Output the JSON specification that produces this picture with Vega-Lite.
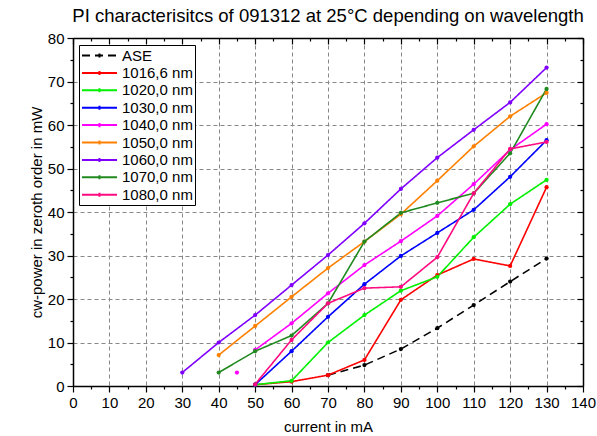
{
  "$schema": "https://vega.github.io/schema/vega-lite/v6.json",
  "width": 510,
  "height": 348,
  "autosize": {"type": "none"},
  "padding": {"left": 73, "top": 38, "right": 14, "bottom": 50},
  "title": {
    "text": "PI characterisitcs of 091312 at 25°C depending on wavelength",
    "font": "Liberation Sans",
    "fontSize": 18.5,
    "fontWeight": "normal",
    "anchor": "middle",
    "offset": 6,
    "color": "black"
  },
  "data": {
    "values": [
      {"series": "ASE", "part": 1, "current": 70, "power": 2.5},
      {"series": "ASE", "part": 1, "current": 80, "power": 4.8},
      {"series": "ASE", "part": 1, "current": 90, "power": 8.5},
      {"series": "ASE", "part": 1, "current": 100, "power": 13.3},
      {"series": "ASE", "part": 1, "current": 110, "power": 18.6},
      {"series": "ASE", "part": 1, "current": 120, "power": 24.0},
      {"series": "ASE", "part": 1, "current": 130, "power": 29.3},
      {"series": "1016,6 nm", "part": 1, "current": 50, "power": 0.3},
      {"series": "1016,6 nm", "part": 1, "current": 60, "power": 1.0},
      {"series": "1016,6 nm", "part": 1, "current": 70, "power": 2.5},
      {"series": "1016,6 nm", "part": 1, "current": 80, "power": 6.0},
      {"series": "1016,6 nm", "part": 1, "current": 90, "power": 19.8},
      {"series": "1016,6 nm", "part": 1, "current": 100, "power": 25.5},
      {"series": "1016,6 nm", "part": 1, "current": 110, "power": 29.2},
      {"series": "1016,6 nm", "part": 1, "current": 120, "power": 27.6},
      {"series": "1016,6 nm", "part": 1, "current": 130, "power": 45.7},
      {"series": "1020,0 nm", "part": 1, "current": 50, "power": 0.3},
      {"series": "1020,0 nm", "part": 1, "current": 60, "power": 1.2},
      {"series": "1020,0 nm", "part": 1, "current": 70, "power": 10.0},
      {"series": "1020,0 nm", "part": 1, "current": 80, "power": 16.3},
      {"series": "1020,0 nm", "part": 1, "current": 90, "power": 21.9},
      {"series": "1020,0 nm", "part": 1, "current": 100, "power": 25.1},
      {"series": "1020,0 nm", "part": 1, "current": 110, "power": 34.2},
      {"series": "1020,0 nm", "part": 1, "current": 120, "power": 41.8},
      {"series": "1020,0 nm", "part": 1, "current": 130, "power": 47.4},
      {"series": "1030,0 nm", "part": 1, "current": 50, "power": 0.3},
      {"series": "1030,0 nm", "part": 1, "current": 60, "power": 8.0},
      {"series": "1030,0 nm", "part": 1, "current": 70, "power": 15.9},
      {"series": "1030,0 nm", "part": 1, "current": 80, "power": 23.4},
      {"series": "1030,0 nm", "part": 1, "current": 90, "power": 29.9},
      {"series": "1030,0 nm", "part": 1, "current": 100, "power": 35.2},
      {"series": "1030,0 nm", "part": 1, "current": 110, "power": 40.5},
      {"series": "1030,0 nm", "part": 1, "current": 120, "power": 48.1},
      {"series": "1030,0 nm", "part": 1, "current": 130, "power": 56.5},
      {"series": "1040,0 nm", "part": 0, "current": 45, "power": 3.1},
      {"series": "1040,0 nm", "part": 1, "current": 50, "power": 8.3},
      {"series": "1040,0 nm", "part": 1, "current": 60, "power": 14.4},
      {"series": "1040,0 nm", "part": 1, "current": 70, "power": 21.3},
      {"series": "1040,0 nm", "part": 1, "current": 80, "power": 27.8},
      {"series": "1040,0 nm", "part": 1, "current": 90, "power": 33.3},
      {"series": "1040,0 nm", "part": 1, "current": 100, "power": 39.1},
      {"series": "1040,0 nm", "part": 1, "current": 110, "power": 46.4},
      {"series": "1040,0 nm", "part": 1, "current": 120, "power": 54.3},
      {"series": "1040,0 nm", "part": 1, "current": 130, "power": 60.2},
      {"series": "1050,0 nm", "part": 1, "current": 40, "power": 7.1},
      {"series": "1050,0 nm", "part": 1, "current": 50, "power": 13.8},
      {"series": "1050,0 nm", "part": 1, "current": 60, "power": 20.5},
      {"series": "1050,0 nm", "part": 1, "current": 70, "power": 27.1},
      {"series": "1050,0 nm", "part": 1, "current": 80, "power": 33.2},
      {"series": "1050,0 nm", "part": 1, "current": 90, "power": 39.5},
      {"series": "1050,0 nm", "part": 1, "current": 100, "power": 47.2},
      {"series": "1050,0 nm", "part": 1, "current": 110, "power": 55.1},
      {"series": "1050,0 nm", "part": 1, "current": 120, "power": 62.0},
      {"series": "1050,0 nm", "part": 1, "current": 130, "power": 67.4},
      {"series": "1060,0 nm", "part": 1, "current": 30, "power": 3.1},
      {"series": "1060,0 nm", "part": 1, "current": 40, "power": 10.0},
      {"series": "1060,0 nm", "part": 1, "current": 50, "power": 16.3},
      {"series": "1060,0 nm", "part": 1, "current": 60, "power": 23.2},
      {"series": "1060,0 nm", "part": 1, "current": 70, "power": 30.1},
      {"series": "1060,0 nm", "part": 1, "current": 80, "power": 37.4},
      {"series": "1060,0 nm", "part": 1, "current": 90, "power": 45.3},
      {"series": "1060,0 nm", "part": 1, "current": 100, "power": 52.5},
      {"series": "1060,0 nm", "part": 1, "current": 110, "power": 58.9},
      {"series": "1060,0 nm", "part": 1, "current": 120, "power": 65.2},
      {"series": "1060,0 nm", "part": 1, "current": 130, "power": 73.2},
      {"series": "1070,0 nm", "part": 1, "current": 40, "power": 3.1},
      {"series": "1070,0 nm", "part": 1, "current": 50, "power": 8.0},
      {"series": "1070,0 nm", "part": 1, "current": 60, "power": 11.6},
      {"series": "1070,0 nm", "part": 1, "current": 70, "power": 19.0},
      {"series": "1070,0 nm", "part": 1, "current": 80, "power": 33.2},
      {"series": "1070,0 nm", "part": 1, "current": 90, "power": 39.8},
      {"series": "1070,0 nm", "part": 1, "current": 100, "power": 42.1},
      {"series": "1070,0 nm", "part": 1, "current": 110, "power": 44.3},
      {"series": "1070,0 nm", "part": 1, "current": 120, "power": 53.5},
      {"series": "1070,0 nm", "part": 1, "current": 130, "power": 68.3},
      {"series": "1080,0 nm", "part": 1, "current": 50, "power": 0.4},
      {"series": "1080,0 nm", "part": 1, "current": 60, "power": 10.6},
      {"series": "1080,0 nm", "part": 1, "current": 70, "power": 19.0},
      {"series": "1080,0 nm", "part": 1, "current": 80, "power": 22.5},
      {"series": "1080,0 nm", "part": 1, "current": 90, "power": 22.8},
      {"series": "1080,0 nm", "part": 1, "current": 100, "power": 29.6},
      {"series": "1080,0 nm", "part": 1, "current": 110, "power": 44.3},
      {"series": "1080,0 nm", "part": 1, "current": 120, "power": 54.5},
      {"series": "1080,0 nm", "part": 1, "current": 130, "power": 56.1}
    ]
  },
  "layer": [
    {
      "mark": {"type": "line", "strokeWidth": 1.6, "clip": true},
      "encoding": {
        "x": {
          "field": "current", "type": "quantitative",
          "scale": {"domain": [0, 140], "nice": false, "zero": false},
          "axis": {
            "orient": "bottom",
            "title": "current in mA",
            "values": [0, 5, 10, 15, 20, 25, 30, 35, 40, 45, 50, 55, 60, 65, 70, 75, 80, 85, 90, 95, 100, 105, 110, 115, 120, 125, 130, 135, 140],
            "labelExpr": "datum.value % 10 == 0 ? datum.label : ''",
            "labelFlush": false,
            "labelOverlap": false,
            "labelPadding": 3,
            "tickSize": {"condition": {"test": "datum.value % 10 == 0", "value": 6}, "value": 3},
            "grid": true,
            "gridOpacity": {"condition": {"test": "datum.value % 10 == 0", "value": 1}, "value": 0},
            "titlePadding": 9
          }
        },
        "y": {
          "field": "power", "type": "quantitative",
          "scale": {"domain": [0, 80], "nice": false},
          "axis": {
            "orient": "left",
            "title": "cw-power in zeroth order in mW",
            "values": [0, 5, 10, 15, 20, 25, 30, 35, 40, 45, 50, 55, 60, 65, 70, 75, 80],
            "labelExpr": "datum.value % 10 == 0 ? datum.label : ''",
            "labelFlush": false,
            "labelOverlap": false,
            "labelPadding": 3,
            "tickSize": {"condition": {"test": "datum.value % 10 == 0", "value": 6}, "value": 3},
            "grid": true,
            "gridOpacity": {"condition": {"test": "datum.value % 10 == 0", "value": 1}, "value": 0},
            "titlePadding": 3
          }
        },
        "detail": {"field": "part"},
        "color": {
          "field": "series", "type": "nominal",
          "scale": {
            "domain": ["ASE", "1016,6 nm", "1020,0 nm", "1030,0 nm", "1040,0 nm", "1050,0 nm", "1060,0 nm", "1070,0 nm", "1080,0 nm"],
            "range": ["#000000", "#FF0000", "#00F000", "#0000FF", "#FF00FF", "#FF8000", "#8000FF", "#208A20", "#FF0A80"]
          },
          "legend": {"title": null}
        },
        "strokeDash": {
          "field": "series", "type": "nominal",
          "scale": {
            "domain": ["ASE", "1016,6 nm", "1020,0 nm", "1030,0 nm", "1040,0 nm", "1050,0 nm", "1060,0 nm", "1070,0 nm", "1080,0 nm"],
            "range": [[8, 5], [1, 0], [1, 0], [1, 0], [1, 0], [1, 0], [1, 0], [1, 0], [1, 0]]
          },
          "legend": {"title": null}
        }
      }
    },
    {
      "mark": {"type": "point", "filled": true, "opacity": 1, "size": 18, "shape": "circle"},
      "encoding": {
        "x": {
          "field": "current", "type": "quantitative",
          "scale": {"domain": [0, 140], "nice": false, "zero": false},
          "axis": {
            "orient": "top",
            "title": null,
            "labels": false,
            "values": [0, 5, 10, 15, 20, 25, 30, 35, 40, 45, 50, 55, 60, 65, 70, 75, 80, 85, 90, 95, 100, 105, 110, 115, 120, 125, 130, 135, 140],
            "tickSize": {"condition": {"test": "datum.value % 10 == 0", "value": -6}, "value": -3},
            "grid": false
          }
        },
        "y": {
          "field": "power", "type": "quantitative",
          "scale": {"domain": [0, 80], "nice": false},
          "axis": {
            "orient": "right",
            "title": null,
            "labels": false,
            "values": [0, 5, 10, 15, 20, 25, 30, 35, 40, 45, 50, 55, 60, 65, 70, 75, 80],
            "tickSize": {"condition": {"test": "datum.value % 10 == 0", "value": -6}, "value": -3},
            "grid": false
          }
        },
        "color": {"field": "series", "type": "nominal", "legend": {"title": null}}
      }
    }
  ],
  "resolve": {"axis": {"x": "independent", "y": "independent"}},
  "config": {
    "font": "Liberation Sans",
    "view": {"stroke": null},
    "axis": {
      "labelFont": "Liberation Sans",
      "labelFontSize": 15,
      "labelColor": "black",
      "titleFont": "Liberation Sans",
      "titleFontSize": 15,
      "titleFontWeight": "normal",
      "titleColor": "black",
      "domainColor": "black",
      "domainWidth": 1.5,
      "tickColor": "black",
      "tickWidth": 1.2,
      "gridColor": "#888888",
      "gridDash": [4, 3],
      "gridWidth": 1
    },
    "legend": {
      "orient": "none",
      "legendX": 6,
      "legendY": 7,
      "labelFont": "Liberation Sans",
      "labelFontSize": 15,
      "labelColor": "black",
      "symbolType": "M-1,0L3.67,0M1.33,-0.27L1.33,0.27",
      "symbolSize": 225,
      "symbolStrokeWidth": 2,
      "labelOffset": 24,
      "rowPadding": 0.4,
      "padding": 2,
      "strokeColor": "black",
      "fillColor": "white",
      "cornerRadius": 0
    }
  }
}
